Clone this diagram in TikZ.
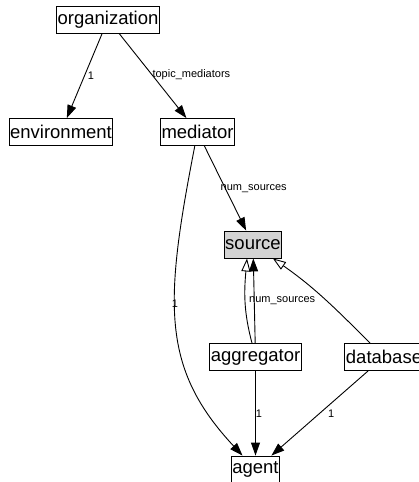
\documentclass[tikz,border=0pt]{standalone}
\usepackage{fontspec}
\setmainfont{Liberation Sans}
\usetikzlibrary{arrows.meta}

\definecolor{srcgray}{RGB}{211,211,211}

\tikzset{
	cls/.style={draw, line width=0.9pt, inner xsep=1pt, inner ysep=0pt,
		minimum height=27pt, font=\fontsize{18.5}{20}\selectfont},
	lbl/.style={font=\fontsize{11}{12}\selectfont, inner sep=0pt},
	rel/.style={line width=0.9pt, -{Triangle[length=13pt,width=9pt]}},
	isa/.style={line width=0.9pt, -{Triangle[length=13pt,width=9pt,fill=white]}},
}

\begin{document}
\begin{tikzpicture}[x=1pt, y=1pt]
	\useasboundingbox (0,0) rectangle (419,-482);
	
	% classes
	\node[cls] (org) at (108,-19.5) {organization};
	\node[cls] (env) at (61,-132) {environment};
	\node[cls] (med) at (197.5,-132) {mediator};
	\node[cls, fill=srcgray] (src) at (253,-244.5) {source};
	\node[cls] (agg) at (255.5,-357) {aggregator};
	\node[cls] (db) at (384,-357) {database};
	\node[cls] (agent) at (255.5,-469.5) {agent};
	
	% associations
	\draw[rel] (org) -- node[lbl, pos=.5, anchor=west, xshift=3pt] {1} (env);
	\draw[rel] (org) -- node[lbl, pos=.49, anchor=west] {topic\_mediators} (med);
	\draw[rel] (med) -- node[lbl, pos=.5, anchor=west, xshift=-5pt] {num\_sources} (src);
	\draw[rel] (med) to[out=259, in=133, out distance=160pt, in distance=120pt]
		node[lbl, pos=.42] {1} (agent);
	\draw[rel] (agg) -- node[lbl, pos=.5, anchor=west, xshift=-5.5pt] {num\_sources} (src);
	\draw[rel] (agg) -- node[lbl, pos=.5, anchor=west] {1} (agent);
	\draw[rel] (db) -- node[lbl, pos=.5, anchor=west, xshift=8pt] {1} (agent);
	
	% generalisations
	\draw[isa] ([xshift=-3.5pt]agg.north) to[out=105, in=265] ([xshift=-6pt]src.south);
	\draw[isa] (db) to[out=135, in=-35] (src);
\end{tikzpicture}
\end{document}
